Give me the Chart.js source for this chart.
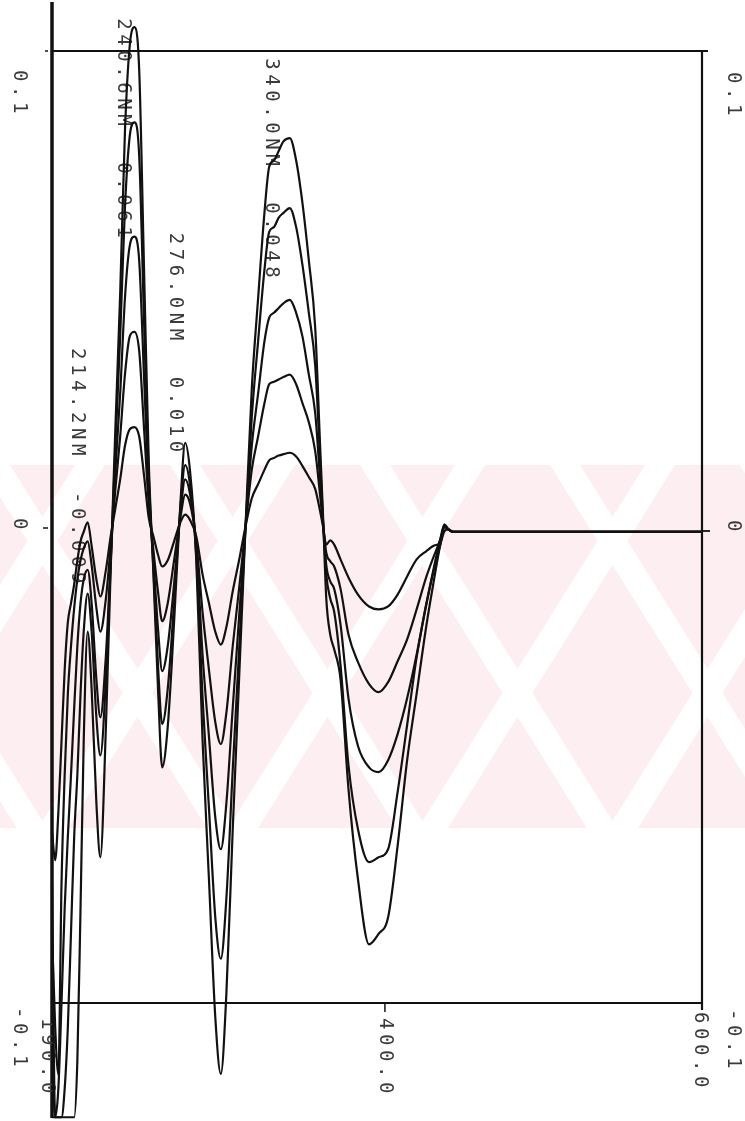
<!DOCTYPE html>
<html>
<head>
<meta charset="utf-8">
<script src="https://cdn.jsdelivr.net/npm/chart.js@4.4.1/dist/chart.umd.min.js"></script>
<style>
html,body{margin:0;padding:0;background:#fff;}
#wrap{width:745px;height:1121px;position:relative;}
</style>
</head>
<body>
<div id="wrap"><canvas id="c" width="745" height="1121"></canvas></div>
<script>
// ---- data ----
const wavelength = [190,192,194,196,198,200,202,204,206,208,
  210,212.5,215,218,220.5,
  224,227,230,233,236,
  239,242,245,248,251,
  254,257,259.5,263,267,
  271,274,277,281,285,
  289,293,296.5,300,304,
  308,312,316,320,324,
  327,330,333,336,340,
  344,348,352,356,359,
  361,363,365.5,368,372,
  377,383,390,396,402,
  408,414,420,426,431,
  435,437.5,440,443,447,
  452,460,480,520,560,
  600];

const curveA = [-0.124,-0.124,-0.124,-0.124,-0.124,-0.124,-0.124,-0.124,-0.112,-0.080,
  -0.045,-0.022,-0.034,-0.058,-0.0694,
  -0.042,-0.009,0.021,0.049,0.083,
  0.101,0.105,0.096,0.055,0.014,
  -0.010,-0.035,-0.0505,-0.042,-0.020,
  0.005,0.0177,0.012,-0.007,-0.045,
  -0.074,-0.103,-0.1149,-0.098,-0.0635,
  -0.032,-0.0005,0.029,0.048,0.066,
  0.0757,0.077,0.079,0.081,0.0817,
  0.077,0.068,0.056,0.042,0.018,
  0.002,-0.015,-0.0226,-0.0257,-0.032,
  -0.055,-0.074,-0.0877,-0.0855,-0.082,
  -0.067,-0.049,-0.035,-0.021,-0.011,
  -0.0035,0.0005,-0.0005,-0.001,-0.001,
  -0.001,-0.001,-0.001,-0.001,-0.001,
  -0.001];

const curveB = [-0.075,-0.124,-0.124,-0.124,-0.118,-0.105,-0.085,-0.065,-0.052,-0.035,
  -0.022,-0.014,-0.022,-0.040,-0.048,
  -0.032,-0.008,0.017,0.040,0.067,
  0.082,0.085,0.078,0.044,0.011,
  -0.009,-0.030,-0.0414,-0.034,-0.016,
  0.004,0.013,0.009,-0.006,-0.036,
  -0.059,-0.082,-0.0907,-0.078,-0.051,
  -0.026,-0.0005,0.023,0.039,0.054,
  0.062,0.063,0.065,0.066,0.067,
  0.063,0.055,0.045,0.034,0.015,
  0.001,-0.010,-0.015,-0.0178,-0.029,
  -0.050,-0.0635,-0.0704,-0.0694,-0.0677,
  -0.0557,-0.0416,-0.0274,-0.0165,-0.0083,
  -0.0024,0.0005,-0.0005,-0.001,-0.001,
  -0.001,-0.001,-0.001,-0.001,-0.001,
  -0.001];

const curveC = [-0.110,-0.124,-0.118,-0.100,-0.080,-0.065,-0.052,-0.038,-0.025,-0.016,
  -0.011,-0.009,-0.016,-0.032,-0.040,
  -0.027,-0.007,0.012,0.028,0.048,
  0.059,0.061,0.056,0.032,0.008,
  -0.007,-0.022,-0.0303,-0.025,-0.012,
  0.003,0.010,0.007,-0.004,-0.027,
  -0.044,-0.061,-0.0677,-0.058,-0.038,
  -0.019,-0.0003,0.017,0.028,0.039,
  0.044,0.045,0.046,0.047,0.0477,
  0.045,0.040,0.032,0.024,0.0105,
  0.001,-0.008,-0.0114,-0.013,-0.0205,
  -0.036,-0.046,-0.0505,-0.0515,-0.049,
  -0.0435,-0.036,-0.0268,-0.0163,-0.0089,
  -0.0037,0.000,-0.0005,-0.001,-0.001,
  -0.001,-0.001,-0.001,-0.001,-0.001,
  -0.001];

const curveD = [-0.085,-0.105,-0.115,-0.075,-0.052,-0.035,-0.025,-0.017,-0.011,-0.007,
  -0.0045,-0.003,-0.008,-0.017,-0.022,
  -0.015,-0.004,0.008,0.019,0.032,
  0.040,0.041,0.037,0.021,0.005,
  -0.005,-0.014,-0.0198,-0.016,-0.007,
  0.002,0.0068,0.005,-0.003,-0.018,
  -0.030,-0.041,-0.0456,-0.039,-0.025,
  -0.013,-0.0002,0.012,0.019,0.026,
  0.030,0.0305,0.031,0.0315,0.032,
  0.030,0.026,0.022,0.016,0.007,
  0.0005,-0.0054,-0.0072,-0.0083,-0.013,
  -0.0226,-0.0284,-0.033,-0.0347,-0.0326,
  -0.0282,-0.0236,-0.0173,-0.0106,-0.006,
  -0.0026,0.000,-0.0005,-0.001,-0.001,
  -0.001,-0.001,-0.001,-0.001,-0.001,
  -0.001];

const curveE = [-0.064,-0.070,-0.060,-0.045,-0.030,-0.020,-0.016,-0.012,-0.007,-0.003,
  -0.001,0.001,-0.004,-0.011,-0.0146,
  -0.009,-0.002,0.004,0.010,0.017,
  0.0205,0.021,0.019,0.011,0.002,
  -0.002,-0.006,-0.0083,-0.007,-0.003,
  0.001,0.0026,0.0015,-0.002,-0.010,
  -0.016,-0.022,-0.0247,-0.021,-0.0135,
  -0.007,0.000,0.006,0.009,0.012,
  0.014,0.0145,0.015,0.0153,0.0156,
  0.0148,0.0128,0.0105,0.008,0.0035,
  0.000,-0.0037,-0.0028,-0.0037,-0.0068,
  -0.0106,-0.0142,-0.0167,-0.0173,-0.0167,
  -0.0142,-0.0104,-0.0068,-0.0051,-0.0039,
  -0.0033,-0.0009,-0.0005,-0.001,-0.001,
  -0.001,-0.001,-0.001,-0.001,-0.001,
  -0.001];

const yTickValues = [0.1, 0, -0.1];
const yTickLabels = ['0.1', '0', '-0.1'];
const xTickValues = [190, 400, 600];
const xTickLabels = ['190.0', '400.0', '600.0'];

const peakLabels = ['240.6NM  0.061', '276.0NM  0.010', '340.0NM  0.048', '214.2NM  -0.009'];
const peakLabelWavelength = [234.8, 267.6, 328.2, 205.8];
const peakLabelValue = [0.1069, 0.0618, 0.0985, 0.0376];

// ---- drawing ----
const INK = '#111';
const TXT = '#3a3a3a';
const FONT = '19px "DejaVu Sans Mono", monospace';
const PITCH = 16;

function vtext(ctx, str, cx, y0) {
  ctx.save();
  ctx.translate(cx, y0);
  ctx.rotate(Math.PI / 2);
  ctx.textAlign = 'left';
  ctx.textBaseline = 'middle';
  for (let i = 0; i < str.length; i++) {
    ctx.fillText(str[i], i * PITCH, 0);
  }
  ctx.restore();
}

function line(ctx, x1, y1, x2, y2, w) {
  ctx.lineWidth = w;
  ctx.beginPath();
  ctx.moveTo(x1, y1);
  ctx.lineTo(x2, y2);
  ctx.stroke();
}

const framePlugin = {
  id: 'plotterFrame',
  beforeDatasetsDraw(chart) {
    const ctx = chart.ctx;
    const a = chart.chartArea;
    const xs = chart.scales.x, ys = chart.scales.y;
    // pale watermark band
    ctx.save();
    ctx.beginPath();
    ctx.rect(0, 465, 745, 363);
    ctx.clip();
    ctx.fillStyle = '#fdeef1';
    ctx.fillRect(0, 465, 745, 363);
    ctx.fillStyle = '#ffffff';
    const k = 1.6, w = 30, top = 465, bot = 828;
    for (let x0 = -400; x0 < 1000; x0 += 190) {
      ctx.beginPath();
      ctx.moveTo(x0, top); ctx.lineTo(x0 + w, top);
      ctx.lineTo(x0 + w + (bot - top) / k, bot); ctx.lineTo(x0 + (bot - top) / k, bot);
      ctx.closePath(); ctx.fill();
      const x1 = x0 + 95;
      ctx.beginPath();
      ctx.moveTo(x1, top); ctx.lineTo(x1 + w, top);
      ctx.lineTo(x1 + w - (bot - top) / k, bot); ctx.lineTo(x1 - (bot - top) / k, bot);
      ctx.closePath(); ctx.fill();
    }
    ctx.restore();

    // frame
    ctx.save();
    ctx.strokeStyle = INK;
    ctx.lineCap = 'butt';
    line(ctx, a.left, 2, a.left, 1118, 3.5);
    line(ctx, a.left, a.top, a.right + 6, a.top, 1.8);
    line(ctx, a.left - 7, a.top, a.left - 4, a.top, 1.5);
    line(ctx, a.right, a.top, a.right, a.bottom + 7, 2.2);
    line(ctx, a.left, a.bottom, a.right, a.bottom, 1.8);
    const x400 = xs.getPixelForValue(400);
    line(ctx, x400, a.bottom, x400, a.bottom + 9, 1.5);
    const y0 = ys.getPixelForValue(0);
    line(ctx, a.left - 9, y0 + 1, a.left - 4, y0 + 1, 1.5);
    line(ctx, a.right, y0 + 4, a.right + 8, y0 + 4, 1.8);
    ctx.restore();

    // text
    ctx.save();
    ctx.fillStyle = TXT;
    ctx.font = FONT;
    const yOff = [19, -9, 4];
    const yOffR = [21, -7, 6];
    yTickValues.forEach((v, i) => {
      const p = ys.getPixelForValue(v);
      vtext(ctx, yTickLabels[i], 19, p + yOff[i]);
      vtext(ctx, yTickLabels[i], 733, p + yOffR[i]);
    });
    const xOff = [-5, 0, -2];
    const xTop = [15, 15, 9];
    xTickValues.forEach((v, i) => {
      const p = xs.getPixelForValue(v);
      vtext(ctx, xTickLabels[i], p + xOff[i], a.bottom + xTop[i]);
    });
    peakLabels.forEach((s, i) => {
      vtext(ctx, s, xs.getPixelForValue(peakLabelWavelength[i]), ys.getPixelForValue(peakLabelValue[i]));
    });
    ctx.restore();
  }
};

function series(vals) {
  return wavelength.map((w, i) => ({ x: w, y: vals[i] }));
}

const dsStyle = {
  borderColor: INK,
  borderWidth: 2.2,
  pointRadius: 0,
  fill: false,
  cubicInterpolationMode: 'monotone',
  clip: false
};

new Chart(document.getElementById('c'), {
  type: 'line',
  data: {
    datasets: [curveA, curveB, curveC, curveD, curveE].map((v, i) =>
      Object.assign({ label: 'curve ' + (i + 1), data: series(v) }, dsStyle))
  },
  options: {
    responsive: false,
    animation: false,
    devicePixelRatio: 1,
    layout: { padding: { left: 52, right: 43, top: 51, bottom: 118 } },
    plugins: { legend: { display: false }, tooltip: { enabled: false } },
    scales: {
      x: { type: 'linear', min: 190, max: 600, display: false },
      y: { type: 'linear', min: -0.1, max: 0.1, display: false }
    }
  },
  plugins: [framePlugin]
});
</script>
</body>
</html>
